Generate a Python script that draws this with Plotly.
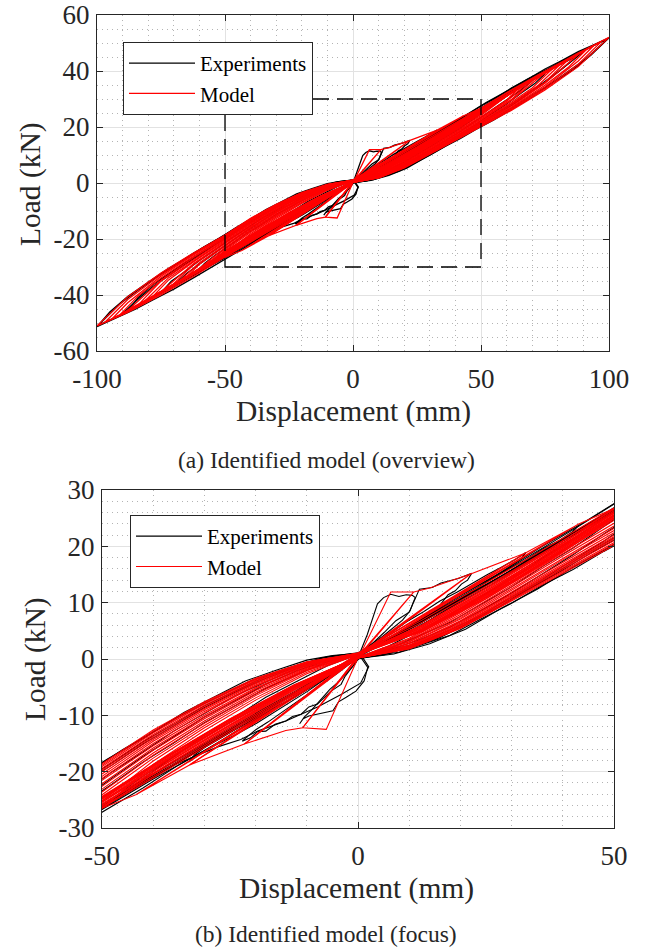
import plotly.graph_objects as go

# ---------------------------------------------------------------------------
# Measured hysteresis cycles: displacement (mm) -> load (kN)
# ---------------------------------------------------------------------------

# Experiments, small-amplitude cycles (about 11, 22, 33 and 43 mm)
EXP_SMALL_X = [
    [0.0, 0.6, 1.8, 2.9, 3.8, 5.0, 6.4, 8.0, 9.4, 10.6, 11.2, 10.8, 10.2, 8.7, 6.9, 4.8, 2.9, 1.2, 0.3,
     1.9, 1.2, -0.4, -2.3, -3.8, -4.9, -6.5, -8.1, -9.6, -10.7, -11.4, -10.5, -9.0, -7.2, -5.5, -3.6,
     -1.9, -0.5, 0.2],
    [0.2, 2.6, 5.1, 7.4, 10.0, 12.0, 14.5, 16.2, 17.8, 19.6, 22.2, 21.4, 20.2, 19.0, 17.6, 15.8, 13.9,
     12.6, 10.8, 9.4, 7.1, 4.8, 2.6, 0.9, -0.4, -2.6, -3.3, -5.4, -7.9, -9.6, -11.1, -12.8, -14.1,
     -16.2, -18.0, -19.6, -21.0, -22.6, -21.8, -19.9, -17.6, -15.4, -13.2, -11.0, -8.6, -6.3, -4.1,
     -2.0, 0.0],
    [0.1, 3.0, 6.2, 9.5, 12.8, 16.0, 19.4, 22.5, 25.3, 28.0, 30.4, 32.8, 31.6, 29.8, 27.5, 25.0, 22.3,
     19.5, 16.4, 13.0, 9.6, 6.3, 3.1, 0.3, -3.0, -6.4, -9.8, -13.1, -16.5, -19.8, -23.2, -26.5, -29.6,
     -33.1, -31.9, -29.5, -26.8, -23.7, -20.4, -16.9, -13.3, -9.7, -6.3, -3.0, 0.1],
    [0.2, 4.0, 8.1, 12.2, 16.3, 20.4, 24.3, 28.0, 31.5, 35.0, 38.4, 41.0, 43.2, 41.9, 39.4, 36.2, 32.6,
     28.7, 24.5, 20.2, 15.8, 11.4, 7.1, 3.2, 0.6, 2.1, 0.5, -3.3, -7.9, -11.1, -14.1, -19.6, -22.9,
     -27.4, -32.6, -37.2, -40.5, -43.6, -42.0, -38.6, -34.8, -30.6, -26.2, -21.6, -16.9, -12.1, -7.4,
     -3.0, 0.1],
]
EXP_SMALL_Y = [
    [0.0, 1.6, 4.3, 7.2, 9.8, 10.9, 11.5, 11.1, 11.4, 11.3, 10.9, 10.1, 8.6, 6.9, 5.5, 4.0, 2.8, 1.7, 0.6,
     -1.5, -3.9, -5.7, -6.8, -7.6, -9.2, -9.5, -9.9, -10.1, -10.6, -11.5, -10.3, -9.0, -7.1, -5.4, -3.9,
     -2.3, -0.8, 0.5],
    [0.5, 2.5, 4.7, 6.8, 8.3, 12.4, 12.7, 13.5, 13.9, 14.3, 15.2, 14.0, 13.3, 12.1, 11.4, 9.3, 8.5,
     6.9, 6.2, 5.0, 4.1, 2.7, 1.6, 0.8, -0.5, -3.2, -4.5, -5.8, -8.0, -8.5, -9.8, -10.2, -11.0,
     -11.6, -12.8, -12.9, -14.0, -14.6, -13.9, -12.5, -11.2, -9.8, -8.3, -7.0, -5.4, -4.0, -2.6,
     -1.1, 0.3],
    [0.6, 2.5, 4.5, 6.6, 8.4, 10.3, 11.9, 13.6, 15.0, 16.3, 17.5, 18.9, 17.6, 16.5, 14.9, 13.6, 11.9,
     10.5, 8.7, 7.0, 5.2, 3.6, 2.0, 0.7, -1.6, -3.5, -5.7, -7.6, -9.6, -11.4, -13.1, -14.6, -16.1,
     -18.3, -17.0, -15.4, -13.6, -11.9, -10.1, -8.3, -6.6, -4.9, -3.2, -1.6, 0.4],
    [0.6, 2.5, 4.6, 6.8, 8.9, 10.9, 12.8, 14.6, 16.4, 18.2, 20.0, 21.7, 23.8, 22.6, 21.1, 19.6, 17.5,
     15.6, 13.3, 11.1, 8.8, 6.5, 4.2, 2.2, 0.7, -1.4, -4.3, -6.3, -8.5, -9.8, -11.0, -12.8, -14.3,
     -15.6, -17.6, -19.3, -21.0, -22.6, -21.3, -19.0, -16.6, -14.3, -11.9, -9.6, -7.2, -4.9, -2.8,
     -0.9, 0.6],
]

# Experiments, large-amplitude cycles (about 50 to 100 mm)
EXP_LARGE_X = [
    [-100.0, -92.0, -85.0, -78.0, -70.0, -62.0, -55.0, -50.0, -42.0, -35.0, -27.0, -20.0, -12.0, -6.0, 0.0,
     4.0, 8.0, 13.0, 18.0, 24.0, 30.0, 36.0, 42.0, 48.0, 55.0, 62.0, 70.0, 78.0, 86.0, 93.0, 100.0,
     94.0, 88.0, 81.0, 75.0, 68.0, 62.0, 56.0, 50.0, 43.0, 36.0, 28.0, 20.0, 12.0, 6.0, 0.0,
     -5.0, -10.0, -16.0, -22.0, -28.0, -34.0, -40.0, -46.0, -52.0, -58.0, -65.0, -72.0, -80.0, -88.0,
     -95.0, -100.0],
    [-99.5, -90.0, -80.0, -70.0, -60.0, -50.0, -40.0, -30.0, -20.0, -10.0, 0.0,
     7.0, 14.0, 21.0, 28.0, 35.0, 42.0, 49.0, 56.0, 63.0, 70.0, 77.0, 84.0, 91.0, 99.5,
     92.0, 84.0, 76.0, 68.0, 60.0, 52.0, 44.0, 36.0, 27.0, 18.0, 9.0, 0.0,
     -7.0, -14.0, -21.0, -28.0, -35.0, -42.0, -49.0, -56.0, -63.0, -70.0, -77.0, -84.0, -91.0, -99.5],
    [-90.0, -83.0, -76.0, -69.0, -62.0, -56.0, -50.0, -44.0, -37.0, -30.0, -23.0, -16.0, -9.0, 0.0,
     5.0, 10.0, 15.0, 20.0, 26.0, 32.0, 38.0, 44.0, 50.0, 56.0, 62.0, 68.0, 74.0, 80.0, 86.0, 90.0,
     84.0, 78.0, 72.0, 66.0, 60.0, 54.0, 48.0, 42.0, 35.0, 28.0, 21.0, 14.0, 7.0, 0.0,
     -6.0, -12.0, -18.0, -24.0, -30.0, -36.0, -42.0, -48.0, -54.0, -60.0, -66.0, -72.0, -78.0, -84.0, -90.0],
    [-88.0, -80.0, -72.0, -64.0, -56.0, -50.0, -43.0, -36.0, -28.0, -20.0, -12.0, -5.0, 0.0,
     5.0, 10.0, 16.0, 22.0, 28.0, 34.0, 40.0, 46.0, 52.0, 58.0, 64.0, 70.0, 76.0, 82.0, 88.0,
     82.0, 76.0, 70.0, 64.0, 58.0, 52.0, 46.0, 40.0, 32.0, 24.0, 16.0, 8.0, 0.0,
     -6.0, -12.0, -18.0, -24.0, -30.0, -36.0, -42.0, -48.0, -54.0, -60.0, -66.0, -72.0, -78.0, -84.0, -88.0],
    [-75.0, -68.0, -61.0, -55.0, -50.0, -44.0, -37.0, -30.0, -22.0, -15.0, -8.0, 0.0,
     6.0, 12.0, 18.0, 24.0, 30.0, 36.0, 42.0, 48.0, 54.0, 60.0, 66.0, 71.0, 75.0,
     70.0, 64.0, 58.0, 52.0, 46.0, 39.0, 31.0, 23.0, 15.0, 7.0, 0.0,
     -6.0, -12.0, -18.0, -24.0, -30.0, -36.0, -42.0, -48.0, -54.0, -60.0, -66.0, -71.0, -75.0],
    [-70.0, -64.0, -58.0, -52.0, -46.0, -40.0, -33.0, -26.0, -19.0, -12.0, -6.0, 0.0,
     6.0, 12.0, 18.0, 24.0, 30.0, 36.0, 42.0, 48.0, 54.0, 60.0, 65.0, 70.0,
     65.0, 59.0, 53.0, 47.0, 40.0, 33.0, 26.0, 19.0, 12.0, 6.0, 0.0,
     -6.0, -12.0, -18.0, -24.0, -30.0, -36.0, -42.0, -48.0, -54.0, -60.0, -65.0, -70.0],
    [-62.0, -56.0, -50.0, -44.0, -37.0, -30.0, -22.0, -14.0, -7.0, 0.0,
     6.0, 12.0, 18.0, 24.0, 30.0, 36.0, 42.0, 48.0, 54.0, 58.0, 62.0,
     56.0, 50.0, 43.0, 36.0, 28.0, 20.0, 12.0, 5.0, 0.0,
     -6.0, -12.0, -18.0, -24.0, -30.0, -36.0, -42.0, -48.0, -54.0, -58.0, -62.0],
    [-50.0, -44.0, -38.0, -31.0, -24.0, -17.0, -9.0, 0.0,
     6.0, 12.0, 18.0, 24.0, 30.0, 36.0, 42.0, 46.0, 50.0,
     44.0, 37.0, 30.0, 22.0, 14.0, 6.0, 0.0,
     -6.0, -12.0, -18.0, -24.0, -30.0, -36.0, -42.0, -46.0, -50.0],
]
EXP_LARGE_Y = [
    [-51.3, -48.0, -45.1, -41.7, -37.9, -33.7, -30.0, -27.2, -22.9, -18.8, -14.7, -10.6, -6.6, -2.9, 0.0,
     0.7, 1.2, 2.7, 4.2, 7.1, 9.9, 13.1, 15.9, 19.1, 22.5, 26.4, 30.7, 35.7, 40.5, 45.7, 51.8,
     49.3, 46.9, 43.5, 40.7, 36.9, 34.0, 30.5, 27.5, 23.5, 19.7, 15.3, 11.3, 6.8, 3.8, 1.0,
     0.6, -0.2, -2.0, -3.9, -6.7, -9.5, -12.9, -16.1, -19.7, -22.7, -26.7, -30.5, -35.5, -40.5,
     -46.1, -51.3],
    [-50.8, -46.7, -41.5, -36.7, -31.5, -26.7, -21.3, -16.3, -10.8, -5.5, 0.1,
     0.9, 2.7, 5.3, 9.0, 12.4, 16.3, 19.8, 23.7, 27.3, 31.4, 35.3, 39.8, 44.4, 51.5,
     48.2, 44.7, 40.7, 37.0, 32.7, 28.7, 24.2, 20.0, 14.9, 10.2, 5.1, 1.0,
     0.2, -1.7, -3.9, -7.0, -10.2, -14.1, -17.8, -21.8, -25.5, -29.7, -33.7, -38.3, -43.1, -50.8],
    [-46.6, -43.3, -39.4, -35.8, -32.2, -29.0, -25.9, -22.5, -18.8, -15.1, -11.4, -7.8, -4.2, 0.2,
     0.7, 2.0, 3.4, 5.6, 8.4, 11.8, 14.9, 18.4, 21.5, 25.0, 28.3, 32.0, 35.6, 39.6, 43.9, 46.9,
     44.3, 41.5, 38.4, 35.5, 32.2, 29.2, 25.7, 22.4, 18.7, 14.6, 10.9, 6.9, 3.5, 1.0,
     0.1, -1.4, -3.4, -5.9, -8.6, -11.9, -15.1, -18.8, -22.1, -25.8, -29.2, -33.1, -36.9, -41.5, -46.6],
    [-45.8, -41.9, -38.0, -33.7, -29.7, -26.5, -22.7, -18.8, -14.7, -10.4, -6.5, -2.5, 0.1,
     0.9, 2.2, 3.8, 6.6, 9.5, 12.7, 15.8, 19.1, 22.1, 25.7, 28.9, 32.9, 36.6, 41.1, 45.6,
     42.8, 40.1, 36.9, 34.1, 30.8, 27.8, 24.4, 21.3, 16.8, 12.7, 8.3, 4.4, 1.1,
     0.4, -1.3, -3.1, -5.7, -8.3, -11.6, -14.7, -18.4, -21.7, -25.4, -28.7, -32.5, -36.2, -41.0, -45.8],
    [-39.2, -35.7, -32.3, -28.9, -26.2, -22.8, -19.2, -15.3, -11.4, -7.5, -4.1, 0.2,
     1.5, 2.9, 5.2, 7.7, 11.0, 14.1, 17.6, 20.9, 24.7, 28.2, 32.3, 35.5, 39.0,
     36.9, 33.8, 30.9, 27.4, 24.3, 20.4, 16.4, 12.0, 8.0, 3.7, 0.9,
     -0.2, -1.7, -4.1, -6.5, -9.7, -12.8, -16.5, -20.0, -24.0, -27.7, -31.9, -35.1, -39.2],
    [-36.5, -33.4, -30.3, -27.0, -23.8, -20.4, -16.6, -12.9, -9.1, -5.6, -2.4, 0.3,
     1.6, 3.4, 5.7, 8.6, 11.7, 15.1, 18.5, 22.2, 25.7, 29.6, 32.8, 36.4,
     34.2, 31.1, 27.9, 24.6, 21.0, 17.1, 13.2, 9.6, 5.8, 2.9, 0.8,
     -0.3, -2.1, -4.5, -7.4, -10.3, -13.8, -17.3, -21.1, -25.0, -28.9, -32.3, -36.5],
    [-32.6, -29.5, -26.6, -23.1, -19.5, -15.5, -11.5, -7.1, -3.6, 0.3,
     1.8, 4.1, 6.5, 9.7, 12.8, 16.4, 19.7, 23.5, 27.1, 29.7, 32.3,
     29.3, 26.4, 22.5, 19.0, 14.6, 10.6, 6.2, 2.9, 0.8,
     -0.5, -2.8, -5.2, -8.3, -11.3, -14.9, -18.3, -22.2, -25.9, -28.7, -32.6],
    [-26.3, -23.1, -19.7, -16.1, -12.1, -8.7, -4.4, 0.2,
     2.3, 5.1, 7.8, 11.1, 14.2, 17.9, 21.3, 23.7, 26.2,
     23.0, 19.6, 15.7, 11.7, 7.3, 3.3, 0.8,
     -1.2, -4.0, -6.8, -10.3, -13.5, -17.3, -20.8, -23.5, -26.3],
]

# Identified model, small-amplitude cycles (peak-oriented branches)
MODEL_SMALL_X = [
    [0.0, 6.4, 10.9, 0.2, -6.2, -10.8, 0.1, 10.9, 0.3, -10.8, 0.0, 10.9],
    [10.9, 14.0, 22.0, 0.3, -10.8, -14.1, -22.2, 0.2, 22.0, 0.4, -22.2, 0.1, 22.0],
    [22.0, 32.7, 0.4, -22.2, -32.9, 0.2, 32.7, 0.5, -32.9, 0.3, 32.7],
    [32.7, 43.0, 0.5, -32.9, -43.4, 0.3, 43.0, 0.6, -43.4, 0.4, 43.0, 50.0],
    [-43.4, -50.0],
]
MODEL_SMALL_Y = [
    [0.0, 11.9, 11.9, 0.6, -12.5, -12.2, 0.3, 11.9, 0.8, -12.2, 0.2, 11.9],
    [11.9, 12.6, 15.1, 0.9, -12.2, -12.7, -15.1, 0.4, 15.1, 1.0, -15.1, 0.5, 15.1],
    [15.1, 18.8, 1.1, -15.1, -18.8, 0.5, 18.8, 1.2, -18.8, 0.6, 18.8],
    [18.8, 23.9, 1.2, -18.8, -24.1, 0.6, 23.9, 1.3, -24.1, 0.7, 23.9, 26.7],
    [-24.1, -26.5],
]

# Identified model, large-amplitude cycles (50 to 100 mm, two passes)
MODEL_LARGE_X = [
    [-100, -88, -75, -62, -50, -37.5, -25, -12.5, 0, 10, 20, 30, 40, 50, 62, 75, 88, 100,
     88, 75, 62, 50, 37.5, 25, 12.5, 0, -10, -20, -30, -40, -50, -62, -75, -88, -100],
    [-94, -82, -70, -60, -50, -37.5, -25, -12.5, 0, 10, 20, 30, 40, 50, 62, 75, 88, 94,
     82, 70, 60, 50, 37.5, 25, 12.5, 0, -10, -20, -30, -40, -50, -62, -75, -88, -94],
    [-88, -76, -64, -50, -37.5, -25, -12.5, 0, 10, 20, 30, 40, 50, 62, 75, 88,
     76, 64, 50, 37.5, 25, 12.5, 0, -10, -20, -30, -40, -50, -62, -75, -88],
    [-81, -70, -60, -50, -37.5, -25, -12.5, 0, 10, 20, 30, 40, 50, 62, 72, 81,
     70, 60, 50, 37.5, 25, 12.5, 0, -10, -20, -30, -40, -50, -62, -72, -81],
    [-75, -64, -50, -37.5, -25, -12.5, 0, 10, 20, 30, 40, 50, 62, 75,
     64, 50, 37.5, 25, 12.5, 0, -10, -20, -30, -40, -50, -62, -75],
    [-68, -58, -50, -37.5, -25, -12.5, 0, 10, 20, 30, 40, 50, 60, 68,
     58, 50, 37.5, 25, 12.5, 0, -10, -20, -30, -40, -50, -60, -68],
    [-62, -50, -37.5, -25, -12.5, 0, 10, 20, 30, 40, 50, 62,
     50, 37.5, 25, 12.5, 0, -10, -20, -30, -40, -50, -62],
    [-56, -50, -37.5, -25, -12.5, 0, 10, 20, 30, 40, 50, 56,
     50, 37.5, 25, 12.5, 0, -10, -20, -30, -40, -50, -56],
    [-97, -85, -72, -60, -50, -37.5, -25, -12.5, 0, 10, 20, 30, 40, 50, 62, 75, 88, 97,
     85, 72, 60, 50, 37.5, 25, 12.5, 0, -10, -20, -30, -40, -50, -62, -75, -88, -97],
    [-91, -80, -68, -56, -50, -37.5, -25, -12.5, 0, 10, 20, 30, 40, 50, 62, 75, 84, 91,
     80, 68, 56, 50, 37.5, 25, 12.5, 0, -10, -20, -30, -40, -50, -62, -75, -84, -91],
    [-84, -72, -60, -50, -37.5, -25, -12.5, 0, 10, 20, 30, 40, 50, 62, 75, 84,
     72, 60, 50, 37.5, 25, 12.5, 0, -10, -20, -30, -40, -50, -62, -75, -84],
    [-78, -66, -50, -37.5, -25, -12.5, 0, 10, 20, 30, 40, 50, 62, 70, 78,
     66, 50, 37.5, 25, 12.5, 0, -10, -20, -30, -40, -50, -62, -72, -78],
    [-71, -60, -50, -37.5, -25, -12.5, 0, 10, 20, 30, 40, 50, 62, 71,
     60, 50, 37.5, 25, 12.5, 0, -10, -20, -30, -40, -50, -62, -71],
    [-65, -56, -50, -37.5, -25, -12.5, 0, 10, 20, 30, 40, 50, 60, 65,
     56, 50, 37.5, 25, 12.5, 0, -10, -20, -30, -40, -50, -60, -65],
    [-59, -50, -37.5, -25, -12.5, 0, 10, 20, 30, 40, 50, 59,
     50, 37.5, 25, 12.5, 0, -10, -20, -30, -40, -50, -59],
    [-53, -50, -37.5, -25, -12.5, 0, 10, 20, 30, 40, 50, 53,
     50, 37.5, 25, 12.5, 0, -10, -20, -30, -40, -50, -53],
    [-50, -37.5, -25, -12.5, 0, 10, 20, 30, 40, 50,
     37.5, 25, 12.5, 0, -10, -20, -30, -40, -50],
]
MODEL_LARGE_Y = [
    [-51.0, -46.2, -40.0, -33.2, -26.4, -19.8, -13.0, -6.3, 0.2, 1.8, 5.4, 10.3, 15.2, 20.2, 26.0, 33.2, 41.6, 52.0,
     46.4, 40.0, 33.3, 26.8, 20.1, 13.5, 6.9, 1.0, -0.5, -3.4, -7.6, -12.6, -18.6, -24.8, -32.2, -40.6, -51.0],
    [-48.4, -42.8, -36.8, -31.3, -25.9, -19.2, -12.4, -5.9, 0.2, 1.9, 5.6, 10.6, 15.6, 20.6, 26.7, 34.3, 43.6, 49.0,
     43.1, 36.9, 31.5, 26.1, 19.2, 12.5, 6.1, 0.9, -0.6, -3.7, -8.0, -13.1, -19.1, -25.5, -33.3, -42.8, -48.4],
    [-45.5, -39.6, -33.2, -25.4, -18.6, -11.8, -5.4, 0.2, 2.0, 5.9, 11.0, 16.1, 21.1, 27.5, 35.6, 45.9,
     40.0, 33.6, 25.6, 18.5, 11.8, 5.6, 0.9, -0.8, -4.0, -8.5, -13.7, -19.7, -26.4, -34.7, -45.5],
    [-41.9, -36.2, -30.6, -24.9, -18.0, -11.3, -5.1, 0.3, 2.2, 6.2, 11.4, 16.6, 21.7, 28.4, 34.6, 42.4,
     36.7, 31.0, 25.1, 17.9, 11.2, 5.2, 0.8, -1.0, -4.4, -9.0, -14.3, -20.4, -27.4, -33.8, -41.9],
    [-38.8, -32.9, -24.6, -17.6, -10.9, -4.8, 0.3, 2.4, 6.6, 11.9, 17.2, 22.4, 29.6, 39.4,
     33.4, 24.9, 17.5, 10.7, 4.9, 0.8, -1.2, -4.8, -9.6, -15.0, -21.2, -28.6, -38.8],
    [-35.2, -29.6, -24.4, -17.3, -10.6, -4.6, 0.3, 2.7, 7.1, 12.5, 17.9, 23.2, 29.2, 35.6,
     30.0, 25.3, 17.9, 11.0, 5.0, 0.7, -1.5, -5.3, -10.3, -15.8, -22.1, -28.5, -35.2],
    [-32.0, -24.8, -17.6, -10.8, -4.7, 0.3, 3.0, 7.6, 13.1, 18.7, 24.1, 32.5,
     25.6, 18.4, 11.5, 5.2, 0.7, -1.8, -5.9, -11.0, -16.7, -23.1, -32.0],
    [-29.0, -25.5, -18.1, -11.3, -5.0, 0.3, 3.3, 8.2, 13.8, 19.5, 25.1, 29.5,
     26.0, 18.9, 12.0, 5.6, 0.8, -2.1, -6.5, -11.8, -17.6, -24.1, -29.0],
    [-49.8, -44.6, -37.9, -31.6, -26.2, -19.5, -12.7, -6.1, 0.2, 1.85, 5.5, 10.45, 15.4, 20.4, 26.4, 33.7, 42.4, 50.5,
     44.8, 38.2, 32.1, 26.5, 19.6, 12.9, 6.5, 1.0, -0.55, -3.55, -7.8, -12.85, -18.85, -25.2, -32.8, -41.6, -49.8],
    [-47.0, -41.4, -35.2, -28.9, -25.7, -18.9, -12.1, -5.6, 0.2, 1.95, 5.75, 10.8, 15.8, 20.8, 27.1, 34.9, 41.2, 47.5,
     41.8, 35.6, 29.2, 25.9, 18.8, 12.1, 5.8, 0.9, -0.7, -3.85, -8.25, -13.4, -19.4, -26.0, -33.9, -40.4, -47.0],
    [-43.6, -37.4, -31.0, -25.2, -18.3, -11.6, -5.2, 0.2, 2.1, 6.0, 11.2, 16.4, 21.4, 28.0, 36.0, 44.0,
     37.8, 31.4, 25.4, 18.2, 11.5, 5.4, 1.1, -0.9, -4.2, -8.8, -14.0, -20.0, -26.9, -35.0, -43.6],
    [-40.3, -34.0, -24.7, -17.8, -11.1, -4.9, 0.2, 2.3, 6.4, 11.6, 16.9, 22.0, 28.9, 33.9, 40.9,
     34.6, 25.0, 17.7, 10.9, 5.0, 1.0, -1.1, -4.6, -9.3, -14.6, -20.8, -27.9, -34.6, -40.3],
    [-36.8, -30.8, -24.5, -17.4, -10.7, -4.7, 0.3, 2.5, 6.8, 12.2, 17.6, 22.8, 29.9, 37.3,
     31.3, 25.4, 17.7, 10.9, 4.9, 1.0, -1.35, -5.1, -10.0, -15.4, -21.6, -28.9, -36.8],
    [-33.6, -28.5, -24.6, -17.4, -10.7, -4.6, 0.3, 2.8, 7.3, 12.8, 18.3, 23.6, 29.6, 34.0,
     28.8, 25.5, 18.2, 11.3, 5.1, 0.95, -1.65, -5.6, -10.6, -16.2, -22.6, -29.0, -33.6],
    [-30.5, -25.2, -17.9, -11.1, -4.9, 0.3, 3.1, 7.9, 13.5, 19.1, 24.6, 31.0,
     25.9, 18.6, 11.7, 5.3, 0.9, -1.95, -6.2, -11.4, -17.1, -23.6, -30.5],
    [-27.8, -26.0, -18.5, -11.7, -5.2, 0.3, 3.5, 8.5, 14.2, 20.0, 25.9, 27.9,
     26.3, 19.2, 12.3, 5.8, 0.85, -2.35, -6.9, -12.2, -18.1, -25.2, -27.8],
    [-26.5, -18.9, -12.0, -5.4, 0.3, 3.7, 8.9, 14.6, 20.5, 26.7,
     19.5, 12.6, 6.0, 0.8, -2.6, -7.3, -12.7, -18.7, -26.5],
]

# Axis ticks of the two panels
OVERVIEW_X_TICKS = [-100, -50, 0, 50, 100]
OVERVIEW_X_LABELS = ["-100", "-50", "0", "50", "100"]
OVERVIEW_Y_TICKS = [-60, -40, -20, 0, 20, 40, 60]
OVERVIEW_Y_LABELS = ["-60", "-40", "-20", "0", "20", "40", "60"]
FOCUS_X_TICKS = [-50, 0, 50]
FOCUS_X_LABELS = ["-50", "0", "50"]
FOCUS_Y_TICKS = [-30, -20, -10, 0, 10, 20, 30]
FOCUS_Y_LABELS = ["-30", "-20", "-10", "0", "10", "20", "30"]

# Zoom window marked on the overview (mm, kN)
FOCUS_BOX = (-50, 50, -30, 30)


def join_cycles(xs_list, ys_list):
    """Concatenate several cycles into one polyline with gaps between them."""
    xs, ys = [], []
    for cx, cy in zip(xs_list, ys_list):
        assert len(cx) == len(cy), (len(cx), len(cy))
        xs += list(cx) + [None]
        ys += list(cy) + [None]
    return xs, ys


exp_x, exp_y = join_cycles(EXP_SMALL_X + EXP_LARGE_X, EXP_SMALL_Y + EXP_LARGE_Y)
mod_x, mod_y = join_cycles(MODEL_LARGE_X + MODEL_SMALL_X, MODEL_LARGE_Y + MODEL_SMALL_Y)

FONT = "Liberation Serif"
AXIS_COLOR = "#262626"

fig = go.Figure()

for xa, ya, leg, lw in (("x", "y", "legend", 1.3), ("x2", "y2", "legend2", 1.1)):
    fig.add_trace(go.Scatter(
        x=exp_x, y=exp_y, mode="lines", name="Experiments",
        line=dict(color="black", width=lw), xaxis=xa, yaxis=ya, legend=leg,
        connectgaps=False, hoverinfo="skip"))
    fig.add_trace(go.Scatter(
        x=mod_x, y=mod_y, mode="lines", name="Model",
        line=dict(color="#ff0000", width=lw), xaxis=xa, yaxis=ya, legend=leg,
        connectgaps=False, hoverinfo="skip"))


def axis_style(rng, tickvals, ticktext, minor_step, domain, anchor, standoff):
    return dict(
        range=rng, domain=domain, anchor=anchor, automargin=False,
        tickmode="array", tickvals=tickvals, ticktext=ticktext,
        ticks="inside", ticklen=6, tickwidth=1, tickcolor=AXIS_COLOR,
        showline=True, linecolor=AXIS_COLOR, linewidth=1, mirror="allticks",
        showgrid=True, gridcolor="#e2e2e2", gridwidth=1, zeroline=False,
        minor=dict(tickmode="linear", tick0=0, dtick=minor_step, showgrid=True,
                   gridcolor="#b4b4b4", gridwidth=1, griddash="1px,4px", ticks=""),
        tickfont=dict(family=FONT, size=27, color=AXIS_COLOR),
        ticklabelstandoff=standoff,
        fixedrange=True,
    )


W, H = 652, 950


def px_x(p):
    return p / W


def px_y(p):
    return 1 - p / H


legend_style = dict(xanchor="left", yanchor="top",
                    bgcolor="white", bordercolor=AXIS_COLOR, borderwidth=1,
                    font=dict(family=FONT, size=21, color="black"),
                    itemwidth=66, tracegroupgap=0)

fig.update_layout(
    width=W, height=H,
    margin=dict(l=0, r=0, t=0, b=0, autoexpand=False),
    paper_bgcolor="white", plot_bgcolor="white",
    showlegend=True,
    xaxis=axis_style([-100, 100], OVERVIEW_X_TICKS, OVERVIEW_X_LABELS, 10,
                     [px_x(97), px_x(609)], "y", 4),
    yaxis=axis_style([-60, 60], OVERVIEW_Y_TICKS, OVERVIEW_Y_LABELS, 5,
                     [px_y(351), px_y(15)], "x", 1),
    xaxis2=axis_style([-50, 50], FOCUS_X_TICKS, FOCUS_X_LABELS, 10,
                      [px_x(102), px_x(614)], "y2", 4),
    yaxis2=axis_style([-30, 30], FOCUS_Y_TICKS, FOCUS_Y_LABELS, 2,
                      [px_y(828), px_y(490)], "x2", 1),
    legend=dict(x=px_x(123), y=px_y(42), **legend_style),
    legend2=dict(x=px_x(130), y=px_y(515), **legend_style),
)

# Dashed frame marking the region shown in the focus panel
x0, x1, y0, y1 = FOCUS_BOX
fig.add_shape(type="rect", xref="x", yref="y", x0=x0, x1=x1, y0=y0, y1=y1,
              line=dict(color="black", width=1.3, dash="16px,8px"),
              fillcolor="rgba(0,0,0,0)", layer="above")

# Axis titles and panel captions
texts = [
    ("Displacement (mm)", 353, 411, 29.5, 0),
    ("(a) Identified model (overview)", 326, 460, 23.5, 0),
    ("Load (kN)", 30, 184, 29.5, -90),
    ("Displacement (mm)", 357, 888, 29.5, 0),
    ("(b) Identified model (focus)", 326, 934, 23.5, 0),
    ("Load (kN)", 35, 659, 29.5, -90),
]
for txt, cx, cy, size, ang in texts:
    fig.add_annotation(text=txt, x=px_x(cx), y=px_y(cy), xref="paper", yref="paper",
                       xanchor="center", yanchor="middle", showarrow=False,
                       textangle=ang, font=dict(family=FONT, size=size, color=AXIS_COLOR))

fig.write_html("out.html", config={"displayModeBar": False, "staticPlot": True})
